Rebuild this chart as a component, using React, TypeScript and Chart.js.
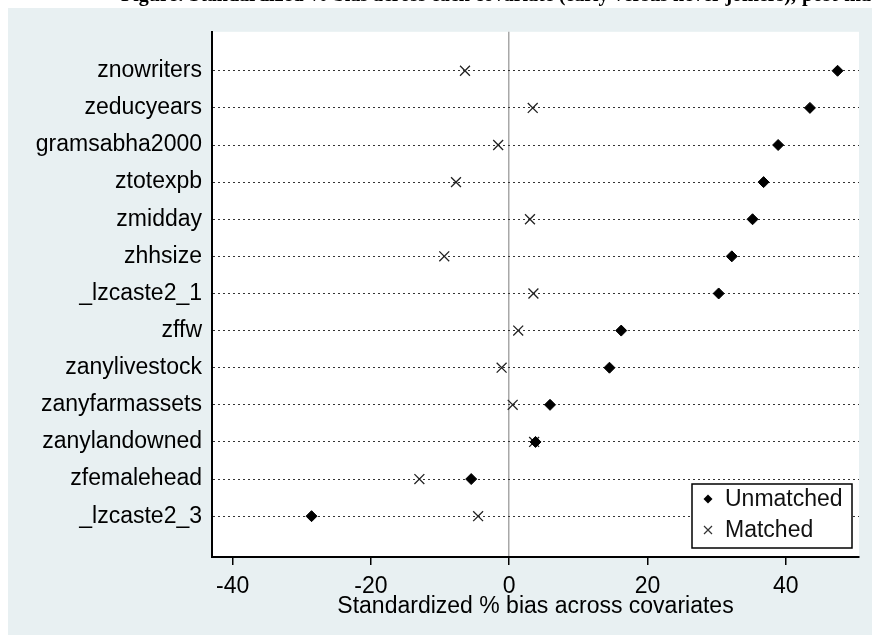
import React, { useEffect, useRef } from 'react';
import { Chart, registerables } from 'chart.js';

Chart.register(...registerables);

// ---- data ----
const categories = [
  'znowriters',
  'zeducyears',
  'gramsabha2000',
  'ztotexpb',
  'zmidday',
  'zhhsize',
  '_lzcaste2_1',
  'zffw',
  'zanylivestock',
  'zanyfarmassets',
  'zanylandowned',
  'zfemalehead',
  '_lzcaste2_3',
];
const unmatched = [47.5, 43.5, 38.9, 36.8, 35.2, 32.2, 30.3, 16.2, 14.5, 5.9, 3.8, -5.5, -28.6];
const matched = [-6.4, 3.4, -1.6, -7.7, 3.0, -9.4, 3.5, 1.3, -1.1, 0.5, 3.6, -13.0, -4.5];
const xTicks = [-40, -20, 0, 20, 40];
const seriesNames = ['Unmatched', 'Matched'];
const xTitle = 'Standardized % bias across covariates';
const headLead = 'Figure: Standardized % bias across each covariate (early versus never joiners),';
const headTail = 'post-matching';

const FONT = "'Liberation Sans', Arial, sans-serif";
const FS = 23;
const BG = '#e8f0f2';

const bgPlugin = {
  id: 'stataBg',
  beforeDraw(chart: any) {
    const { ctx, chartArea } = chart;
    ctx.save();
    ctx.fillStyle = BG;
    ctx.fillRect(0, 0, chart.width, chart.height);
    ctx.fillStyle = '#ffffff';
    ctx.fillRect(chartArea.left, chartArea.top, chartArea.right - chartArea.left, chartArea.bottom - chartArea.top);
    ctx.restore();
  },
};

const legendPlugin = {
  id: 'stataLegend',
  afterDraw(chart: any) {
    const { ctx, chartArea } = chart;
    const right = chartArea.right - 7;
    const bottom = chartArea.bottom - 9;
    const w = 160;
    const h = 64;
    const left = right - w;
    const top = bottom - h;
    ctx.save();
    ctx.fillStyle = '#ffffff';
    ctx.fillRect(left, top, w, h);
    ctx.strokeStyle = '#000';
    ctx.lineWidth = 1.5;
    ctx.strokeRect(left, top, w, h);
    // markers
    const mx = left + 16;
    const y1 = top + 15;
    const y2 = top + 46;
    ctx.fillStyle = '#000';
    ctx.beginPath();
    ctx.moveTo(mx, y1 - 4.5);
    ctx.lineTo(mx + 4.5, y1);
    ctx.lineTo(mx, y1 + 4.5);
    ctx.lineTo(mx - 4.5, y1);
    ctx.closePath();
    ctx.fill();
    ctx.strokeStyle = '#333';
    ctx.lineWidth = 1.2;
    ctx.beginPath();
    ctx.moveTo(mx - 4, y2 - 4);
    ctx.lineTo(mx + 4, y2 + 4);
    ctx.moveTo(mx + 4, y2 - 4);
    ctx.lineTo(mx - 4, y2 + 4);
    ctx.stroke();
    ctx.fillStyle = '#111';
    ctx.font = `${FS}px ${FONT}`;
    ctx.textAlign = 'left';
    ctx.textBaseline = 'alphabetic';
    ctx.fillText(seriesNames[0], left + 33, top + 22);
    ctx.fillText(seriesNames[1], left + 33, top + 53);
    ctx.restore();
  },
};

export default function App() {
  const ref = useRef<HTMLCanvasElement>(null);
  useEffect(() => {
    document.body.style.overflow = 'hidden';
    const chart = new Chart(ref.current as HTMLCanvasElement, {
      type: 'scatter',
      data: {
        datasets: [
          {
            label: seriesNames[0],
            data: unmatched.map((x, i) => ({ x, y: i })),
            pointStyle: 'rectRot',
            pointRadius: 5.5,
            backgroundColor: '#000',
            borderColor: '#000',
            borderWidth: 1,
          },
          {
            label: seriesNames[1],
            data: matched.map((x, i) => ({ x, y: i })),
            pointStyle: 'crossRot',
            pointRadius: 7,
            backgroundColor: '#222',
            borderColor: '#222',
            borderWidth: 1.3,
          },
        ],
      },
      options: {
        animation: false,
        responsive: false,
        devicePixelRatio: 1,
        layout: { padding: { top: 23, right: 13, left: 0, bottom: 0 } },
        plugins: { legend: { display: false }, tooltip: { enabled: false } },
        scales: {
          x: {
            type: 'linear',
            position: 'bottom',
            min: -43,
            max: 50.6,
            afterBuildTicks: (s: any) => {
              s.ticks = xTicks.map((v) => ({ value: v }));
            },
            afterFit: (s: any) => {
              s.height = 78;
            },
            grid: {
              display: true,
              drawOnChartArea: true,
              drawTicks: true,
              tickLength: 8,
              tickWidth: 1.5,
              tickColor: '#000',
              lineWidth: 1.5,
              color: (c: any) => (c.tick && c.tick.value === 0 ? '#a8a8a8' : 'rgba(0,0,0,0)'),
            },
            border: { display: true, color: '#000', width: 2 },
            ticks: {
              autoSkip: false,
              maxRotation: 0,
              color: '#000',
              padding: 8,
              font: { family: FONT, size: FS },
              callback: (v: any) => String(v),
            },
            title: {
              display: true,
              text: xTitle,
              color: '#000',
              font: { family: FONT, size: FS },
              padding: { top: 0, bottom: 15 },
            },
          },
          y: {
            type: 'linear',
            position: 'left',
            reverse: true,
            min: -1.05,
            max: 13.1,
            afterBuildTicks: (s: any) => {
              s.ticks = categories.map((_, i) => ({ value: i }));
            },
            afterFit: (s: any) => {
              s.width = 204;
            },
            grid: {
              display: true,
              drawOnChartArea: true,
              drawTicks: false,
              color: '#333',
              lineWidth: 1,
            },
            border: { display: true, color: '#000', width: 2, dash: [2, 3] },
            ticks: {
              autoSkip: false,
              color: '#000',
              padding: 10,
              font: { family: FONT, size: FS },
              callback: (v: any) => categories[v] ?? '',
            },
          },
        },
      },
      plugins: [bgPlugin, legendPlugin],
    } as any);
    return () => chart.destroy();
  }, []);

  const headStyle: React.CSSProperties = {
    position: 'absolute',
    top: -16,
    whiteSpace: 'nowrap',
    font: "bold 20px 'Liberation Serif', 'Times New Roman', serif",
    lineHeight: '20px',
    color: '#000',
  };

  return (
    <>
      <div style={{ position: 'fixed', left: 0, top: 0, width: 872, height: 8, overflow: 'hidden' }}>
        <div style={{ ...headStyle, right: 76, textAlign: 'right' }}>{headLead}</div>
        <div style={{ ...headStyle, left: 802 }}>{headTail}</div>
      </div>
      <div style={{ position: 'fixed', left: 8, top: 8, width: 864, height: 627 }}>
        <canvas ref={ref} width={864} height={627} style={{ display: 'block' }} />
      </div>
    </>
  );
}
